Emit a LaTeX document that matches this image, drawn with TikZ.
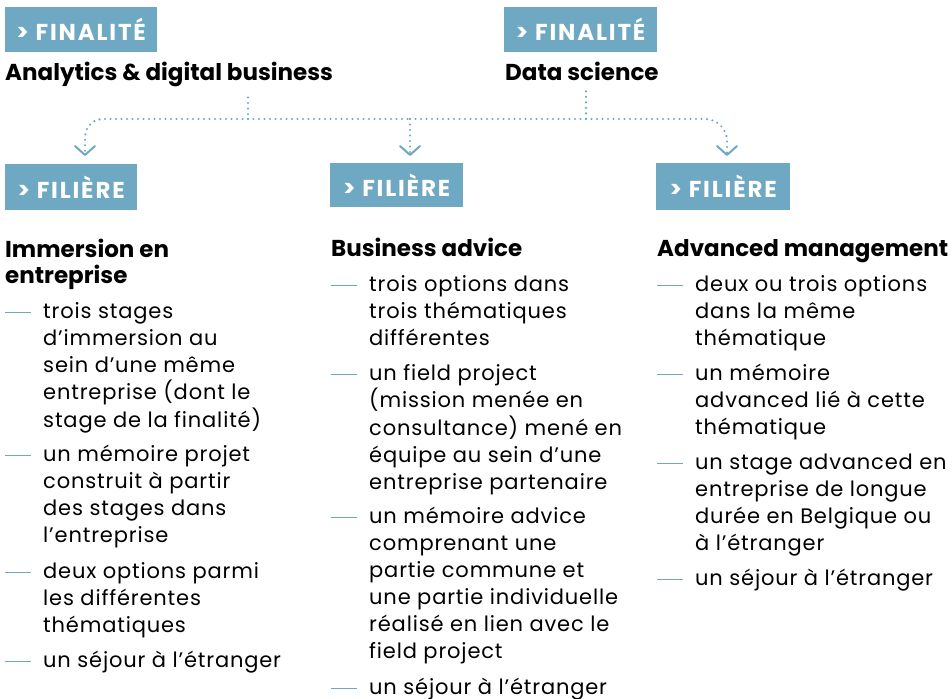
\documentclass[tikz,border=0pt]{standalone}
\usepackage{fontspec}
\setmainfont{Poppins}
\usetikzlibrary{arrows.meta}
\definecolor{myblue}{HTML}{6FA8C2}
\newcommand\bul[3]{\node[body] (#1) at #2 {\begin{tabular}[t]{@{}l@{}}#3\end{tabular}};
  \draw[bar] ([shift={(-38,-6)}]#1.base west) -- ++(26,0);}
\begin{document}
\begin{tikzpicture}[x=1pt,y=-1pt,
  tag/.style={fill=myblue,text=white,font=\fontsize{23}{26}\selectfont\bfseries\addfontfeature{LetterSpace=8},inner sep=0pt,anchor=north west},
  head/.style={font=\fontsize{23}{26}\selectfont\bfseries,anchor=base west,inner sep=0pt,align=left},
  body/.style={font=\fontsize{21}{27}\selectfont\addfontfeature{LetterSpace=4},anchor=base west,inner sep=0pt},
  bar/.style={myblue,line width=1pt},
  conn/.style={myblue,line width=2.4pt,line cap=round,dash pattern=on 0pt off 5.5pt},
  tipv/.style={-{Straight Barb[length=9pt,width=20pt,line width=2pt,round]}}]
\useasboundingbox (0,0) rectangle (952,698);
% finalites
\node[tag,minimum width=152pt,minimum height=45pt] (fin1) at (5,7) {> FINALITÉ};
\node[tag,minimum width=153pt,minimum height=45pt] (fin2) at (504,7) {> FINALITÉ};
\node[head] (t1) at (5,81) {Analytics \& digital business};
\node[head] (t2) at (505,81) {Data science};
% filieres
\node[tag,minimum width=132pt,minimum height=46pt] (fil1) at (5,164) {> FILIÈRE};
\node[tag,minimum width=133pt,minimum height=44pt] (fil2) at (330,163) {> FILIÈRE};
\node[tag,minimum width=134pt,minimum height=47pt] (fil3) at (656,163) {> FILIÈRE};
% connectors
\coordinate (j1) at (248,119);
\coordinate (j2) at (586,119);
\coordinate (jm) at (410,119);
\coordinate (e1) at (85,156);
\coordinate (e2) at (410,156);
\coordinate (e3) at (727,156);
\draw[conn] (t1.south -| j1) ++(0,10) -- (j1);
\draw[conn] (t2.south -| j2) ++(0,10) -- (j2);
\draw[conn] (j1) -- (jm);
\draw[conn] (j2) -- (jm);
\draw[conn,tipv,rounded corners=18pt] (j1) -| (e1);
\draw[conn,tipv] (jm) -- (e2);
\draw[conn,tipv,rounded corners=22pt] (j2) -| (e3);
% titles
\node[head,anchor=north west] (h1) at (5,239) {Immersion en\\entreprise};
\node[head] (h2) at (331,256) {Business advice};
\node[head] (h3) at (657,256) {Advanced management};
% column 1
\bul{a1}{(43,318)}{trois stages\\d’immersion au\\sein d’une même\\entreprise (dont le\\stage de la finalité)}
\bul{a2}{(43,461)}{un mémoire projet\\construit à partir\\des stages dans\\l’entreprise}
\bul{a3}{(43,578)}{deux options parmi\\les différentes\\thématiques}
\bul{a4}{(43,667)}{un séjour à l’étranger}
% column 2
\bul{b1}{(369,291)}{trois options dans\\trois thématiques\\différentes}
\bul{b2}{(369,380)}{un field project\\(mission menée en\\consultance) mené en\\équipe au sein d’une\\entreprise partenaire}
\bul{b3}{(369,523)}{un mémoire advice\\comprenant une\\partie commune et\\une partie individuelle\\réalisé en lien avec le\\field project}
\bul{b4}{(369,694)}{un séjour à l’étranger}
% column 3
\bul{c1}{(695,291)}{deux ou trois options\\dans la même\\thématique}
\bul{c2}{(695,380)}{un mémoire\\advanced lié à cette\\thématique}
\bul{c3}{(695,469)}{un stage advanced en\\entreprise de longue\\durée en Belgique ou\\à l’étranger}
\bul{c4}{(695,585)}{un séjour à l’étranger}
\end{tikzpicture}
\end{document}
